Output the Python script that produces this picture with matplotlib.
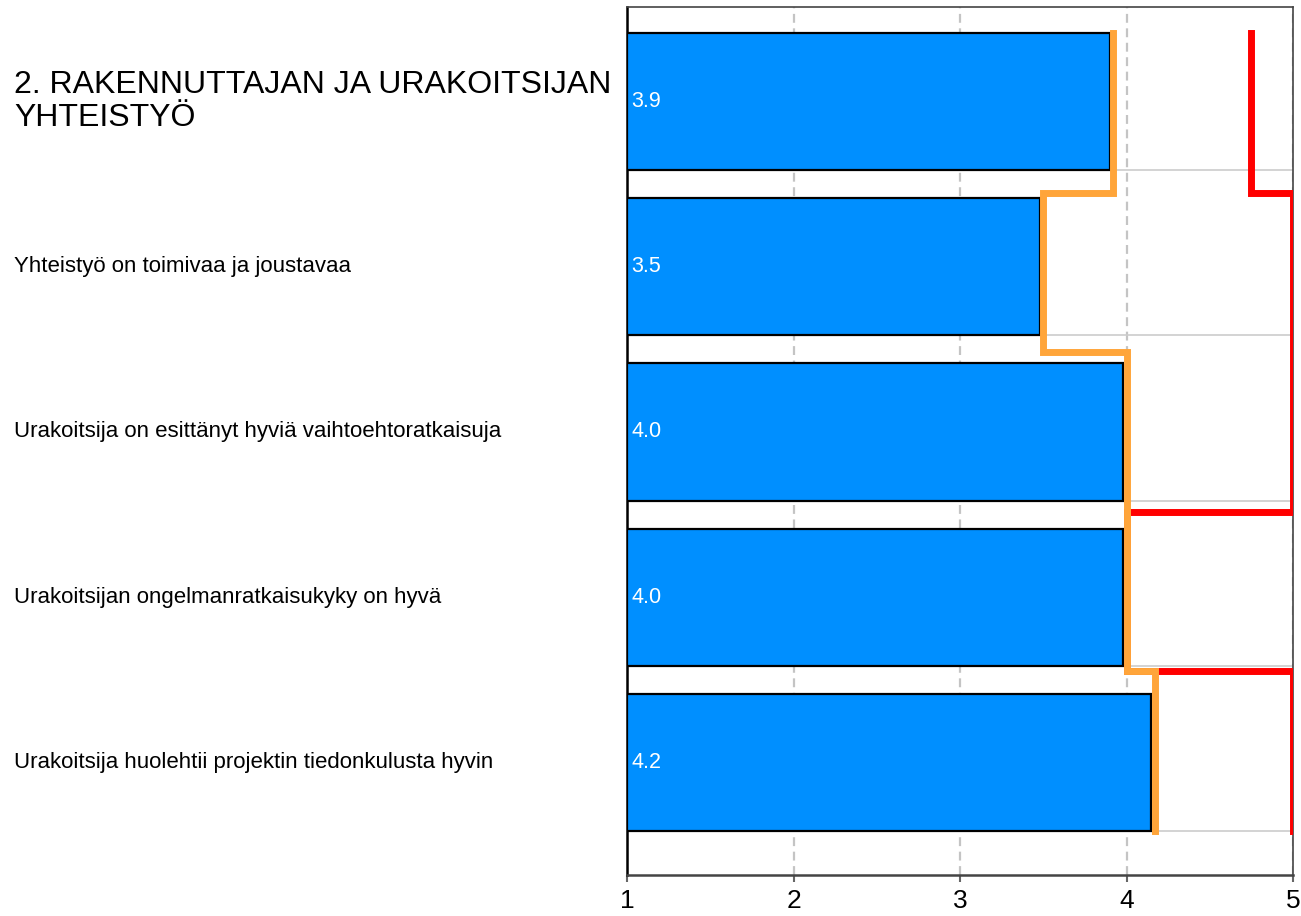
import numpy as np
import matplotlib
matplotlib.use("Agg")
import matplotlib.pyplot as plt
from matplotlib.transforms import blended_transform_factory

plt.rcParams['font.family'] = ['Liberation Sans', 'DejaVu Sans']

# ---- data ----
section_title = "2. RAKENNUTTAJAN JA URAKOITSIJAN\nYHTEISTYÖ"
categories = [
    "Yhteistyö on toimivaa ja joustavaa",
    "Urakoitsija on esittänyt hyviä vaihtoehtoratkaisuja",
    "Urakoitsijan ongelmanratkaisukyky on hyvä",
    "Urakoitsija huolehtii projektin tiedonkulusta hyvin",
]
bar_values = [3.90, 3.48, 3.98, 3.98, 4.15]
bar_labels = ["3.9", "3.5", "4.0", "4.0", "4.2"]
orange_values = [3.92, 3.50, 4.00, 4.00, 4.17]
red_values = [4.75, 5.00, 5.00, 4.00, 5.00]
x_ticks = [1, 2, 3, 4, 5]

W, H = 1301, 916
fig = plt.figure(figsize=(W / 100, H / 100), dpi=100)
ax = fig.add_axes([627 / W, 1 - 875 / H, (1293 - 627) / W, (875 - 7) / H])

n = len(bar_values)
pos = np.arange(n)
bh = 0.83

ax.barh(pos, np.array(bar_values) - 1, left=1, height=bh, color='#008fff',
        edgecolor='black', linewidth=1.6, zorder=3)

for p, lab in zip(pos, bar_labels):
    ax.text(1.028, p, lab, color='white', fontsize=15.5, va='center', ha='left', zorder=6)

# step lines spanning from top of first bar to bottom of last bar
edges = np.linspace(pos[0] - bh / 2, pos[-1] + bh / 2, n + 1)
ys = np.ravel(np.column_stack([edges[:-1], edges[1:]]))
ax.plot(np.repeat(red_values, 2), ys, color='#ff0000', lw=5,
        solid_capstyle='projecting', solid_joinstyle='miter', zorder=4)
ax.plot(np.repeat(orange_values, 2), ys, color='#ffa53a', lw=5,
        solid_capstyle='projecting', solid_joinstyle='miter', zorder=5)

ax.set_xlim(1, 5)
ax.set_ylim(4.681, -0.572)
ax.set_xticks(x_ticks)
ax.set_xticklabels([str(t) for t in x_ticks], fontsize=19)
ax.set_yticks(pos + bh / 2)
ax.set_yticklabels([])
ax.tick_params(axis='y', length=0)
ax.tick_params(axis='x', length=5, width=1.5, color='#666666', pad=5)

ax.xaxis.grid(True, color='#c4c4c4', linestyle=(0, (4, 2.5)), linewidth=1.6, zorder=0)
ax.yaxis.grid(True, color='#cccccc', linestyle='-', linewidth=1.2, zorder=0)
ax.set_axisbelow(True)

for s in ['top', 'right', 'bottom']:
    ax.spines[s].set_color('#444444')
    ax.spines[s].set_linewidth(1.2)
ax.spines['bottom'].set_linewidth(1.8)
ax.spines['left'].set_color('black')
ax.spines['left'].set_linewidth(1.8)

tr = blended_transform_factory(fig.transFigure, ax.transData)
ax.text(14 / W, pos[0], section_title, transform=tr, fontsize=23, ha='left',
        va='center', linespacing=1.12, clip_on=False)
for p, c in zip(pos[1:], categories):
    ax.text(14 / W, p, c, transform=tr, fontsize=16, ha='left', va='center', clip_on=False)

fig.savefig('out.png', dpi=100)
